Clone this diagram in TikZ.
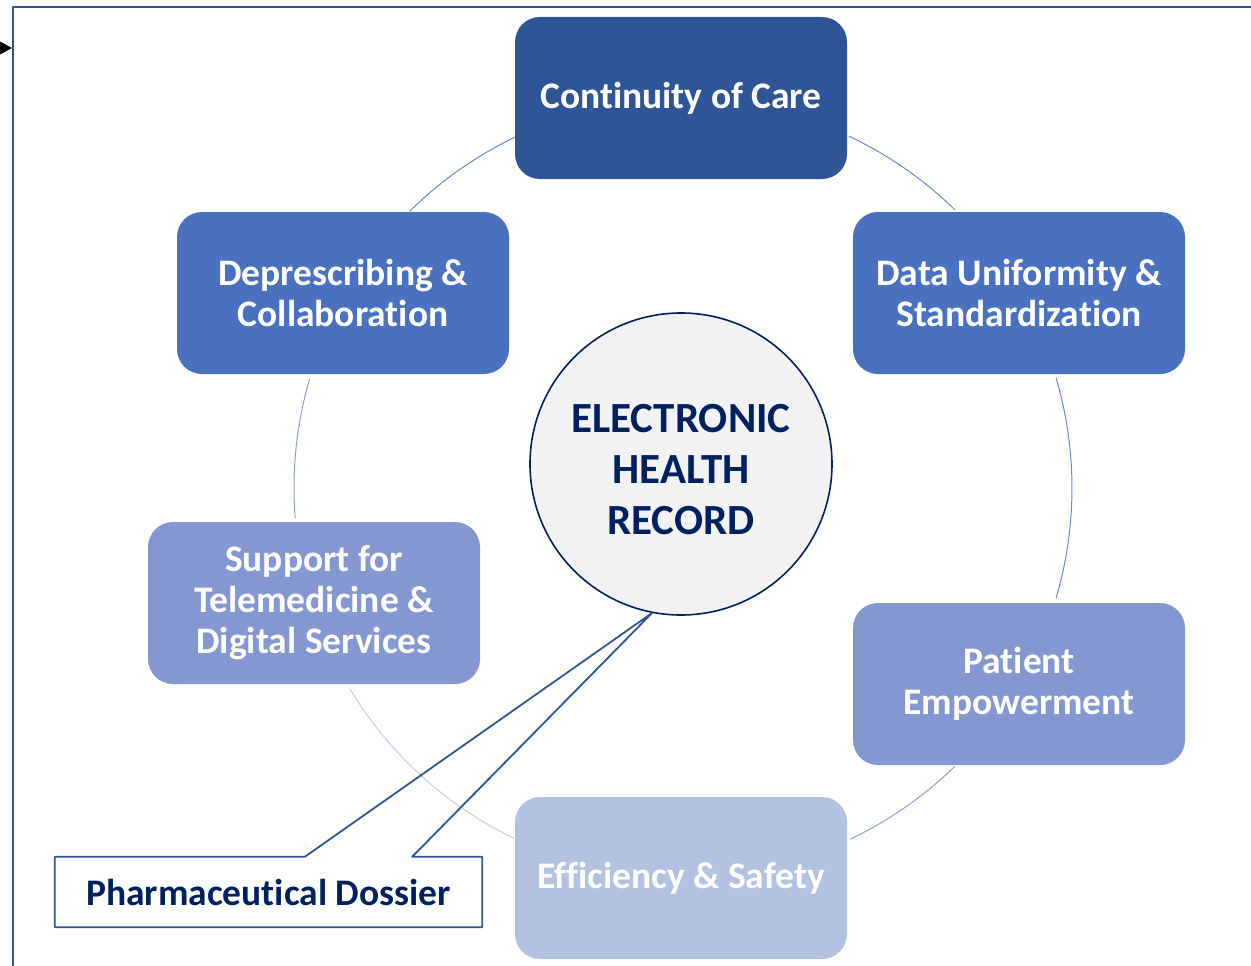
\documentclass[tikz,border=0pt]{standalone}
\usepackage{fontspec}
\setmainfont{Carlito}[Ligatures=NoCommon]
\usetikzlibrary{arrows.meta}

\definecolor{careblue}{HTML}{2F5597}
\definecolor{midblue}{HTML}{4A70C0}
\definecolor{softblue}{HTML}{8497D0}
\definecolor{paleblue}{HTML}{B4C2E2}
\definecolor{navy}{HTML}{002060}
\definecolor{ehrgray}{HTML}{F2F2F2}
\definecolor{ringA}{HTML}{6A88D2}
\definecolor{ringB}{HTML}{8CA0D6}
\definecolor{ringC}{HTML}{C3CDE8}

\begin{document}
\begin{tikzpicture}[line cap=round,line join=round,x=1pt,y=-1pt,
  card/.style={rounded corners=25pt,minimum width=332pt,minimum height=162pt,
    inner sep=0pt,align=center,text=white,font=\fontsize{37.5}{41}\selectfont\bfseries},
  ring/.style={line width=1pt}]

\useasboundingbox (0,0) rectangle (1251,966);

% frame and arrow
\draw[careblue,line width=2pt] (13,990) -- (13,7) -- (1280,7);
\coordinate (tipstart) at (-40,48);
\coordinate (tipend) at (12,48);
\draw[-{Triangle[length=14pt,width=15pt]},line width=1pt] (tipstart) -- (tipend);

% cycle
\coordinate (hub) at (683,488);
\draw[ring,ringA] (hub) ++(-115.7:389) arc[start angle=-115.7,end angle=-134.6,radius=389];
\draw[ring,ringA] (hub) ++(-64.7:389) arc[start angle=-64.7,end angle=-45.7,radius=389];
\draw[ring,ringA] (hub) ++(-16.4:389) arc[start angle=-16.4,end angle=16.4,radius=389];
\draw[ring,ringB] (hub) ++(45.7:389) arc[start angle=45.7,end angle=64.5,radius=389];
\draw[ring,ringC] (hub) ++(115.9:389) arc[start angle=115.9,end angle=148.9,radius=389];
\draw[ring,ringB] (hub) ++(175.6:389) arc[start angle=175.6,end angle=196.2,radius=389];

\node[card,fill=careblue] (care) at (681,98) {Continuity of Care};
\node[card,fill=midblue] (depres) at (343,293) {Deprescribing \&\\Collaboration};
\node[card,fill=midblue] (data) at (1019,293) {Data Uniformity \&\\Standardization};
\node[card,fill=softblue] (tele) at (314,603) {Support for\\Telemedicine \&\\Digital Services};
\node[card,fill=softblue] (patient) at (1019,684) {Patient\\Empowerment};
\node[card,fill=paleblue] (safety) at (681,878) {Efficiency \& Safety};

% center
\node[circle,draw=navy,line width=1.6pt,fill=ehrgray,minimum size=302pt,inner sep=0pt,
  label={[align=center,text=navy,font=\fontsize{43}{51}\selectfont\bfseries,yshift=-6pt]center:ELECTRONIC\\HEALTH\\RECORD}]
  (ehr) at (681,464) {};

% callout
\node[inner sep=0pt,minimum width=427pt,minimum height=70pt,text=navy,
  font=\fontsize{37.5}{41}\selectfont\bfseries] (dossier) at (268.5,892) {Pharmaceutical Dossier};
\coordinate (apex) at (ehr.259);
\draw[careblue,line width=1.8pt] (dossier.north west) ++(250,0) coordinate (wedgeL)
  -- (apex) -- ([xshift=-70pt]dossier.north east) -- (dossier.north east)
  -- (dossier.south east) -- (dossier.south west) -- (dossier.north west) -- (wedgeL);

\end{tikzpicture}
\end{document}
